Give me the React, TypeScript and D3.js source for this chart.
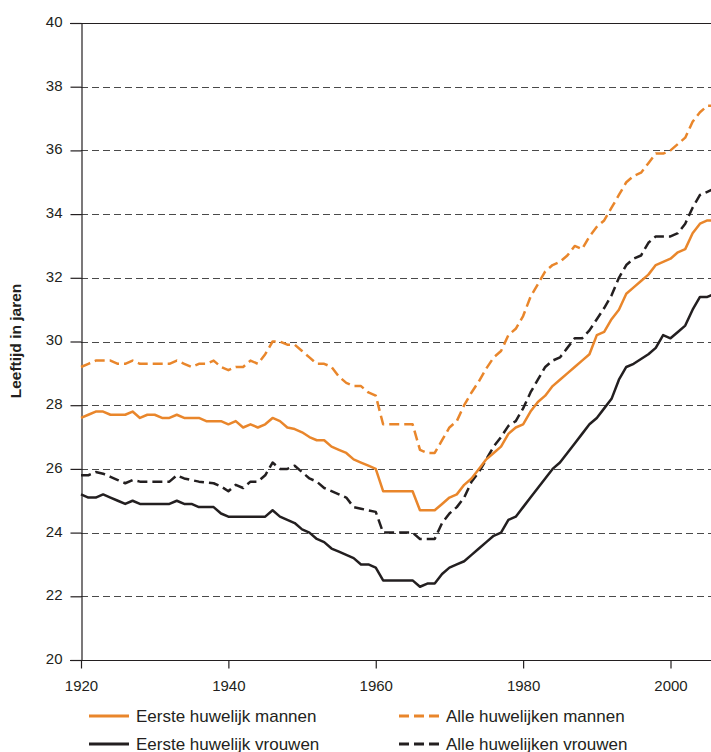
import { useEffect, useRef } from 'react';
import * as d3 from 'd3';

// yearly values, 1920 .. 2006
const startYear = 1920;

const menFirst = [
  27.6, 27.7, 27.8, 27.8, 27.7, 27.7, 27.7, 27.8, 27.6, 27.7,
  27.7, 27.6, 27.6, 27.7, 27.6, 27.6, 27.6, 27.5, 27.5, 27.5,
  27.4, 27.5, 27.3, 27.4, 27.3, 27.4, 27.6, 27.5, 27.3, 27.25,
  27.15, 27.0, 26.9, 26.9, 26.7, 26.6, 26.5, 26.3, 26.2, 26.1,
  26.0, 25.3, 25.3, 25.3, 25.3, 25.3, 24.7, 24.7, 24.7, 24.9,
  25.1, 25.2, 25.5, 25.7, 26.0, 26.3, 26.5, 26.7, 27.1, 27.3,
  27.4, 27.8, 28.1, 28.3, 28.6, 28.8, 29.0, 29.2, 29.4, 29.6,
  30.2, 30.3, 30.7, 31.0, 31.5, 31.7, 31.9, 32.1, 32.4, 32.5,
  32.6, 32.8, 32.9, 33.4, 33.7, 33.8, 33.8,
];

const menAll = [
  29.2, 29.3, 29.4, 29.4, 29.4, 29.3, 29.3, 29.4, 29.3, 29.3,
  29.3, 29.3, 29.3, 29.4, 29.3, 29.2, 29.3, 29.3, 29.4, 29.2,
  29.1, 29.2, 29.2, 29.4, 29.3, 29.6, 30.0, 30.0, 29.9, 29.9,
  29.7, 29.5, 29.3, 29.3, 29.2, 28.9, 28.7, 28.6, 28.6, 28.4,
  28.3, 27.4, 27.4, 27.4, 27.4, 27.4, 26.6, 26.5, 26.5, 26.9,
  27.3, 27.5, 28.0, 28.4, 28.75, 29.15, 29.5, 29.7, 30.2, 30.4,
  30.8, 31.4, 31.8, 32.2, 32.4, 32.5, 32.7, 33.0, 32.9, 33.3,
  33.6, 33.8, 34.2, 34.6, 35.0, 35.2, 35.3, 35.6, 35.9, 35.9,
  36.0, 36.2, 36.4, 36.9, 37.2, 37.4, 37.4,
];

const womenFirst = [
  25.2, 25.1, 25.1, 25.2, 25.1, 25.0, 24.9, 25.0, 24.9, 24.9,
  24.9, 24.9, 24.9, 25.0, 24.9, 24.9, 24.8, 24.8, 24.8, 24.6,
  24.5, 24.5, 24.5, 24.5, 24.5, 24.5, 24.7, 24.5, 24.4, 24.3,
  24.1, 24.0, 23.8, 23.7, 23.5, 23.4, 23.3, 23.2, 23.0, 23.0,
  22.9, 22.5, 22.5, 22.5, 22.5, 22.5, 22.3, 22.4, 22.4, 22.7,
  22.9, 23.0, 23.1, 23.3, 23.5, 23.7, 23.9, 24.0, 24.4, 24.5,
  24.8, 25.1, 25.4, 25.7, 26.0, 26.2, 26.5, 26.8, 27.1, 27.4,
  27.6, 27.9, 28.2, 28.8, 29.2, 29.3, 29.45, 29.6, 29.8, 30.2,
  30.1, 30.3, 30.5, 31.0, 31.4, 31.4, 31.5,
];

const womenAll = [
  25.8, 25.8, 25.9, 25.85, 25.75, 25.65, 25.55, 25.65, 25.6, 25.6,
  25.6, 25.6, 25.6, 25.8, 25.7, 25.65, 25.6, 25.57, 25.55, 25.45,
  25.3, 25.5, 25.4, 25.6, 25.6, 25.8, 26.2, 26.0, 26.0, 26.1,
  25.9, 25.7, 25.6, 25.4, 25.3, 25.2, 25.1, 24.8, 24.75, 24.7,
  24.65, 24.0, 24.0, 24.0, 24.0, 24.0, 23.8, 23.8, 23.8, 24.3,
  24.6, 24.8, 25.1, 25.6, 25.9, 26.3, 26.7, 27.0, 27.35, 27.5,
  27.9, 28.4, 28.8, 29.2, 29.4, 29.5, 29.8, 30.1, 30.1, 30.35,
  30.7, 31.05, 31.45, 32.0, 32.4, 32.6, 32.7, 33.1, 33.3, 33.3,
  33.3, 33.4, 33.7, 34.2, 34.6, 34.7, 34.8,
];

const xTicks = [1920, 1940, 1960, 1980, 2000];
const yTicks = [20, 22, 24, 26, 28, 30, 32, 34, 36, 38, 40];

const ORANGE = '#E9862B';
const BLACK = '#231F20';

const series = [
  { label: 'Alle huwelijken vrouwen', values: womenAll, color: BLACK, dashed: true },
  { label: 'Eerste huwelijk vrouwen', values: womenFirst, color: BLACK, dashed: false },
  { label: 'Alle huwelijken mannen', values: menAll, color: ORANGE, dashed: true },
  { label: 'Eerste huwelijk mannen', values: menFirst, color: ORANGE, dashed: false },
];

const legendOrder = [
  'Eerste huwelijk mannen', 'Alle huwelijken mannen',
  'Eerste huwelijk vrouwen', 'Alle huwelijken vrouwen',
];

export default function App() {
  const ref = useRef<SVGSVGElement>(null);

  useEffect(() => {
    const svg = d3.select(ref.current);
    svg.selectAll('*').remove();
    const W = 711, H = 752;
    const font = '"Liberation Sans", Arial, sans-serif';

    const x = d3.scaleLinear().domain([1920, 2000]).range([81, 670.5]);
    const y = d3.scaleLinear().domain([20, 40]).range([660, 23]);

    // dashed grid
    svg.append('g').selectAll('line').data(yTicks.filter(v => v > 20 && v < 40)).enter().append('line')
      .attr('x1', 81).attr('x2', W).attr('y1', d => Math.round(y(d)) + 0.5).attr('y2', d => Math.round(y(d)) + 0.5)
      .attr('stroke', '#4a4a4a').attr('stroke-width', 1).attr('stroke-dasharray', '7,4');

    // top and bottom frame lines
    [40, 20].forEach(v => {
      svg.append('line').attr('x1', 70).attr('x2', W)
        .attr('y1', Math.round(y(v)) + 0.5).attr('y2', Math.round(y(v)) + 0.5)
        .attr('stroke', BLACK).attr('stroke-width', 1.2);
    });

    const ya = svg.append('g').attr('transform', 'translate(81.5,0)')
      .call(d3.axisLeft(y).tickValues(yTicks).tickSize(11).tickPadding(8).tickSizeOuter(0));
    ya.select('.domain').attr('stroke', BLACK).attr('stroke-width', 1.2);
    ya.selectAll('.tick line').attr('stroke', BLACK).attr('stroke-width', 1.2);
    ya.selectAll('text').attr('font-family', font).attr('font-size', 15).attr('fill', BLACK).attr('dy', '0.23em');

    const xa = svg.append('g').attr('transform', 'translate(0,660.5)')
      .call(d3.axisBottom(x).tickValues(xTicks).tickFormat(d => String(d)).tickSize(8).tickPadding(12).tickSizeOuter(0));
    xa.select('.domain').remove();
    xa.selectAll('.tick line').attr('stroke', BLACK).attr('stroke-width', 1.2);
    xa.selectAll('text').attr('font-family', font).attr('font-size', 15).attr('fill', BLACK);

    svg.append('text')
      .attr('transform', 'translate(21,341) rotate(-90)')
      .attr('text-anchor', 'middle').attr('font-family', font).attr('font-weight', 'bold')
      .attr('font-size', 15.5).attr('fill', BLACK).text('Leeftijd in jaren');

    const line = d3.line<number>().x((_, i) => x(startYear + i)).y(d => y(d));
    series.forEach(s => {
      svg.append('path').datum(s.values).attr('d', line)
        .attr('fill', 'none').attr('stroke', s.color).attr('stroke-width', 2.5)
        .attr('stroke-linejoin', 'round')
        .attr('stroke-dasharray', s.dashed ? '10,5' : null);
    });

    // legend
    const lg = svg.append('g');
    legendOrder.forEach((label, i) => {
      const s = series.find(d => d.label === label)!;
      const col = i % 2, row = Math.floor(i / 2);
      const lx = col === 0 ? 89 : 399;
      const ly = 716 + row * 28;
      lg.append('line').attr('x1', lx).attr('x2', lx + 40).attr('y1', ly).attr('y2', ly)
        .attr('stroke', s.color).attr('stroke-width', 3)
        .attr('stroke-dasharray', s.dashed ? '10,5' : null);
      lg.append('text').attr('x', lx + 47).attr('y', ly + 6)
        .attr('font-family', font).attr('font-size', 17).attr('fill', BLACK).text(label);
    });
    svg.attr('width', W).attr('height', H);
  }, []);

  return (
    <div style={{ position: 'absolute', left: 0, top: 0 }}>
      <svg ref={ref} width={711} height={752} style={{ display: 'block', background: '#fff' }} />
    </div>
  );
}
